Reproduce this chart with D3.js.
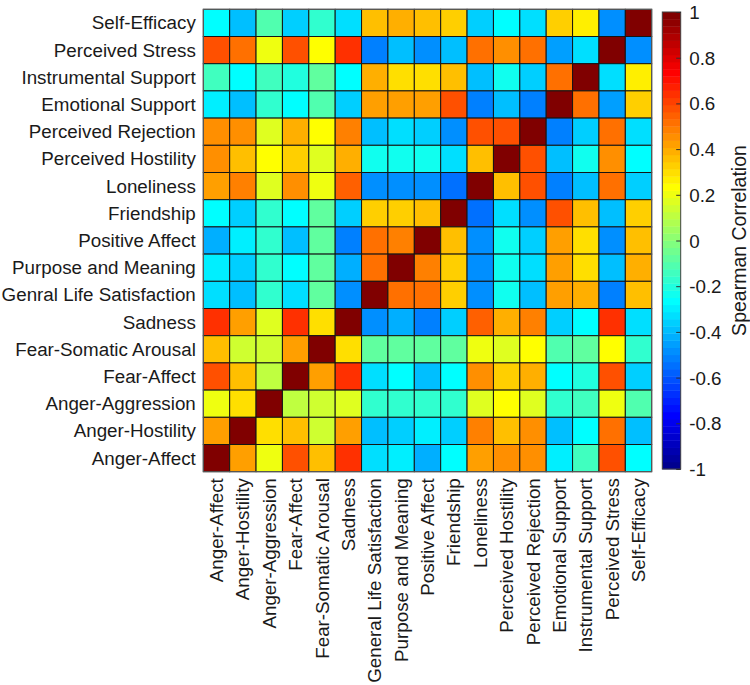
<!DOCTYPE html>
<html>
<head>
<meta charset="utf-8">
<script src="https://cdn.jsdelivr.net/npm/d3@7"></script>
<style>
  html, body { margin: 0; padding: 0; background: #fff; }
  svg { display: block; font-family: "Liberation Sans", Arial, Helvetica, sans-serif; }
</style>
</head>
<body>
<svg id="chart" width="750" height="685"></svg>
<script>
// ---- categories ----
const colLabels = ["Anger-Affect", "Anger-Hostility", "Anger-Aggression", "Fear-Affect",
  "Fear-Somatic Arousal", "Sadness", "General Life Satisfaction", "Purpose and Meaning",
  "Positive Affect", "Friendship", "Loneliness", "Perceived Hostility", "Perceived Rejection",
  "Emotional Support", "Instrumental Support", "Perceived Stress", "Self-Efficacy"];
const rowLabels = ["Self-Efficacy", "Perceived Stress", "Instrumental Support", "Emotional Support",
  "Perceived Rejection", "Perceived Hostility", "Loneliness", "Friendship", "Positive Affect",
  "Purpose and Meaning", "Genral Life Satisfaction", "Sadness", "Fear-Somatic Arousal",
  "Fear-Affect", "Anger-Aggression", "Anger-Hostility", "Anger-Affect"];

// ---- correlation values, one row per displayed row (top to bottom), columns in colLabels order ----
const rowSelfEfficacy     = [-0.27, -0.38, -0.11, -0.35, -0.16, -0.34, 0.36, 0.38, 0.36, 0.34, -0.37, -0.28, -0.34, 0.34, 0.27, -0.50, 1];
const rowPerceivedStress  = [0.57, 0.51, 0.19, 0.57, 0.23, 0.63, -0.52, -0.40, -0.47, -0.38, 0.51, 0.46, 0.50, -0.44, -0.33, 1, -0.50];
const rowInstrumental     = [-0.15, -0.27, -0.13, -0.20, -0.07, -0.28, 0.39, 0.29, 0.29, 0.35, -0.40, -0.23, -0.37, 0.50, 1, -0.33, 0.27];
const rowEmotional        = [-0.31, -0.40, -0.18, -0.28, -0.10, -0.37, 0.41, 0.41, 0.42, 0.57, -0.53, -0.38, -0.53, 1, 0.50, -0.44, 0.34];
const rowRejection        = [0.46, 0.46, 0.17, 0.40, 0.23, 0.48, -0.40, -0.34, -0.37, -0.47, 0.58, 0.59, 1, -0.53, -0.37, 0.50, -0.34];
const rowHostility        = [0.46, 0.36, 0.23, 0.34, 0.18, 0.40, -0.23, -0.23, -0.23, -0.33, 0.36, 1, 0.59, -0.38, -0.23, 0.46, -0.28];
const rowLoneliness       = [0.42, 0.49, 0.17, 0.46, 0.19, 0.56, -0.47, -0.48, -0.48, -0.55, 1, 0.36, 0.58, -0.53, -0.40, 0.51, -0.37];
const rowFriendship       = [-0.27, -0.37, -0.16, -0.27, -0.09, -0.35, 0.33, 0.33, 0.35, 1, -0.55, -0.33, -0.47, 0.57, 0.35, -0.38, 0.34];
const rowPositiveAffect   = [-0.41, -0.31, -0.17, -0.38, -0.08, -0.52, 0.53, 0.48, 1, 0.35, -0.48, -0.23, -0.37, 0.42, 0.29, -0.47, 0.36];
const rowPurpose          = [-0.30, -0.37, -0.17, -0.27, -0.09, -0.41, 0.52, 1, 0.48, 0.33, -0.48, -0.23, -0.34, 0.41, 0.29, -0.40, 0.38];
const rowLifeSatisfaction = [-0.33, -0.40, -0.17, -0.34, -0.07, -0.50, 1, 0.52, 0.53, 0.33, -0.47, -0.23, -0.40, 0.41, 0.39, -0.52, 0.36];
const rowSadness          = [0.65, 0.42, 0.17, 0.65, 0.31, 1, -0.50, -0.41, -0.52, -0.35, 0.56, 0.40, 0.48, -0.37, -0.28, 0.63, -0.34];
const rowFearSomatic      = [0.36, 0.13, 0.13, 0.42, 1, 0.31, -0.07, -0.09, -0.08, -0.09, 0.19, 0.18, 0.23, -0.10, -0.07, 0.23, -0.16];
const rowFearAffect       = [0.59, 0.36, 0.10, 1, 0.42, 0.65, -0.34, -0.27, -0.38, -0.27, 0.46, 0.34, 0.40, -0.28, -0.20, 0.57, -0.35];
const rowAngerAggression  = [0.20, 0.30, 1, 0.10, 0.13, 0.17, -0.17, -0.17, -0.17, -0.16, 0.17, 0.23, 0.17, -0.18, -0.13, 0.19, -0.11];
const rowAngerHostility   = [0.41, 1, 0.30, 0.36, 0.13, 0.42, -0.40, -0.37, -0.31, -0.37, 0.49, 0.36, 0.46, -0.40, -0.27, 0.51, -0.38];
const rowAngerAffect      = [1, 0.41, 0.20, 0.59, 0.36, 0.65, -0.33, -0.30, -0.41, -0.27, 0.42, 0.46, 0.46, -0.31, -0.15, 0.57, -0.27];

const matrixRows = [rowSelfEfficacy, rowPerceivedStress, rowInstrumental, rowEmotional, rowRejection,
  rowHostility, rowLoneliness, rowFriendship, rowPositiveAffect, rowPurpose, rowLifeSatisfaction,
  rowSadness, rowFearSomatic, rowFearAffect, rowAngerAggression, rowAngerHostility, rowAngerAffect];

// ---- colorbar ticks ----
const cbarTicks = [-1, -0.8, -0.6, -0.4, -0.2, 0, 0.2, 0.4, 0.6, 0.8, 1];
const cbarLabel = "Spearman Correlation";

// ---- MATLAB jet(m) colormap ----
function jet(m) {
  const n = Math.ceil(m / 4);
  const u = [];
  for (let i = 1; i <= n; i++) u.push(i / n);
  for (let i = 0; i < n - 1; i++) u.push(1);
  for (let i = n; i >= 1; i--) u.push(i / n);
  const g0 = Math.ceil(n / 2) - (m % 4 === 1 ? 1 : 0);
  const J = Array.from({length: m}, () => [0, 0, 0]);
  u.forEach((val, k) => {
    const g = g0 + k + 1, r = g + n, b = g - n;
    if (r >= 1 && r <= m) J[r - 1][0] = val;
    if (g >= 1 && g <= m) J[g - 1][1] = val;
    if (b >= 1 && b <= m) J[b - 1][2] = val;
  });
  return J.map(c => d3.rgb(Math.round(c[0] * 255), Math.round(c[1] * 255), Math.round(c[2] * 255)).formatHex());
}
const jetColors = jet(64);
const color = d3.scaleQuantize().domain([-1, 1]).range(jetColors);

// ---- layout ----
const svg = d3.select("#chart");
const plot = {left: 203.3, top: 9.3, right: 651.7, bottom: 471.7};
const fontSize = 18.8;
const textColor = "#1a1a1a";

const x = d3.scaleBand().domain(colLabels).range([plot.left, plot.right]).padding(0);
const y = d3.scaleBand().domain(rowLabels).range([plot.top, plot.bottom]).padding(0);

// cells
const cells = [];
matrixRows.forEach((row, i) => row.forEach((v, j) => cells.push({r: rowLabels[i], c: colLabels[j], v})));
svg.append("g").selectAll("rect").data(cells).join("rect")
  .attr("x", d => x(d.c))
  .attr("y", d => y(d.r))
  .attr("width", x.bandwidth())
  .attr("height", y.bandwidth())
  .attr("fill", d => color(d.v))
  .attr("stroke", "#151515")
  .attr("stroke-width", 1);

// axes box
svg.append("rect")
  .attr("x", plot.left).attr("y", plot.top)
  .attr("width", plot.right - plot.left).attr("height", plot.bottom - plot.top)
  .attr("fill", "none").attr("stroke", "#606060").attr("stroke-width", 1);

// y axis
const yAxis = svg.append("g")
  .attr("transform", `translate(${plot.left},0)`)
  .call(d3.axisLeft(y).tickSize(0).tickPadding(7.5));
yAxis.select(".domain").remove();
yAxis.selectAll("text")
  .attr("font-size", fontSize).attr("fill", textColor)
  .attr("font-family", "Liberation Sans, Arial, sans-serif")
  .attr("dy", "0.35em");

// x axis (rotated labels)
const xAxis = svg.append("g")
  .attr("transform", `translate(0,${plot.bottom})`)
  .call(d3.axisBottom(x).tickSize(0));
xAxis.select(".domain").remove();
xAxis.selectAll("text")
  .attr("font-size", fontSize).attr("fill", textColor)
  .attr("font-family", "Liberation Sans, Arial, sans-serif")
  .attr("transform", "rotate(-90)")
  .attr("text-anchor", "end")
  .attr("x", -6.5)
  .attr("y", 0)
  .attr("dy", "0.35em");

// colorbar
const cb = {left: 662.3, right: 680.7, top: 12, bottom: 469};
const cy = d3.scaleLinear().domain([-1, 1]).range([cb.bottom, cb.top]);
const bands = jetColors.map((c, k) => ({c, lo: -1 + k * 2 / jetColors.length, hi: -1 + (k + 1) * 2 / jetColors.length}));
svg.append("g").selectAll("rect").data(bands).join("rect")
  .attr("x", cb.left)
  .attr("width", cb.right - cb.left)
  .attr("y", d => cy(d.hi))
  .attr("height", d => cy(d.lo) - cy(d.hi) + 0.4)
  .attr("fill", d => d.c);
svg.append("rect")
  .attr("x", cb.left).attr("y", cb.top)
  .attr("width", cb.right - cb.left).attr("height", cb.bottom - cb.top)
  .attr("fill", "none").attr("stroke", "#404040").attr("stroke-width", 1);

const cAxis = svg.append("g")
  .attr("transform", `translate(${cb.right},0)`)
  .call(d3.axisRight(cy).tickValues(cbarTicks)
    .tickFormat(d => String(+d.toFixed(1)))
    .tickSizeInner(-4.5).tickSizeOuter(0).tickPadding(8.5));
cAxis.select(".domain").remove();
cAxis.selectAll(".tick line").attr("stroke", "#303030");
cAxis.selectAll("text")
  .attr("font-size", fontSize).attr("fill", textColor)
  .attr("font-family", "Liberation Sans, Arial, sans-serif")
  .attr("dy", "0.35em");

svg.append("text")
  .attr("transform", `translate(746,${(cb.top + cb.bottom) / 2}) rotate(-90)`)
  .attr("text-anchor", "middle")
  .attr("font-size", 19.5)
  .attr("fill", textColor)
  .text(cbarLabel);
</script>
</body>
</html>
